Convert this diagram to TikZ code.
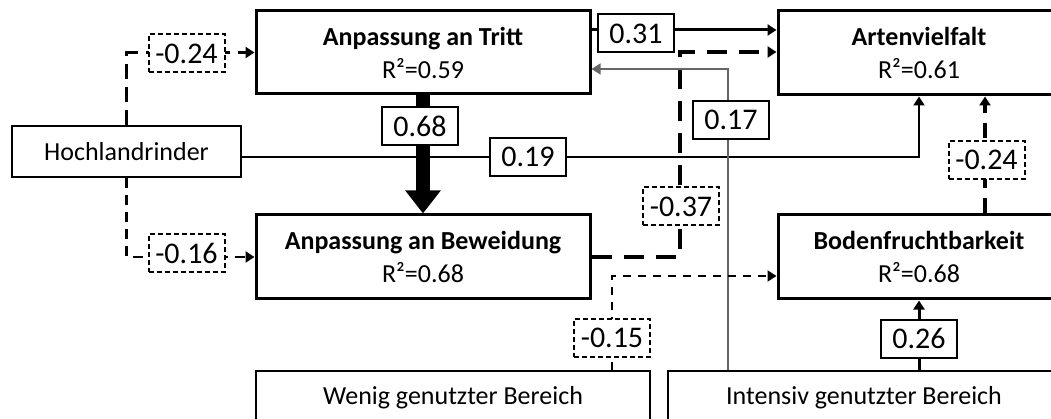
\documentclass[tikz,border=0pt]{standalone}
\usepackage{fontspec}
\setmainfont{Carlito}
\usetikzlibrary{arrows.meta}
\begin{document}
\begin{tikzpicture}[x=1pt,y=-1pt,
  mainbox/.style={draw, line width=3pt, fill=white, align=center, inner sep=0pt,
    font=\fontsize{26}{33}\selectfont},
  srcbox/.style={draw, line width=2pt, fill=white, inner sep=0pt,
    font=\fontsize{26}{30}\selectfont},
  lab/.style={draw, line width=2pt, fill=white, inner sep=0pt,
    minimum width=76pt, minimum height=38pt, font=\fontsize{30}{30}\selectfont},
  dlab/.style={lab, line width=2pt, dash pattern=on 5pt off 3pt},
  arr/.style={-{Triangle[length=9pt,width=11pt]}},
  grayline/.style={line width=1.5pt, draw=black!60},
]
\useasboundingbox (0,0) rectangle (1051,419);
\clip (0,0) rectangle (1051,419);

% main boxes
\node[mainbox, minimum width=334pt, minimum height=83pt] (tritt) at (423,52.5)
  {\textbf{Anpassung an Tritt}\\R²=0.59};
\node[mainbox, minimum width=282pt, minimum height=84pt] (arten) at (919,53)
  {\textbf{Artenvielfalt}\\R²=0.61};
\node[mainbox, minimum width=334pt, minimum height=84pt] (bew) at (423,257)
  {\textbf{Anpassung an Beweidung}\\R²=0.68};
\node[mainbox, minimum width=282pt, minimum height=84pt] (boden) at (919,257)
  {\textbf{Bodenfruchtbarkeit}\\R²=0.68};
\node[srcbox, minimum width=229pt, minimum height=51pt] (hoch) at (126.5,151.5) {Hochlandrinder};
\node[srcbox, minimum width=394pt, minimum height=54pt] (wenig) at (453,398) {Wenig genutzter Bereich};
\node[srcbox, minimum width=392pt, minimum height=54pt] (intens) at (864,398) {Intensiv genutzter Bereich};

% connectors
\draw[line width=3pt, dash pattern=on 15pt off 8pt, arr] (hoch.north) |- (tritt.west);
\draw[line width=2.5pt, dash pattern=on 10pt off 7pt, arr] (hoch.south) |- (bew.west);
\draw[line width=2pt, arr] (hoch.east |- 0,157) -| (arten.south);
\draw[line width=14pt, -{Triangle[length=23pt,width=34pt]}] (tritt.south) -- (bew.north);
\draw[line width=3pt, arr] (tritt.east |- 0,30) -- (arten.west |- 0,30);
\draw[line width=4.5pt, dash pattern=on 20pt off 12pt, arr] (bew.east) -| (680,52) -- (arten.west |- 0,52);
\draw[grayline, arr] (intens.north -| 728,0) |- (tritt.east |- 0,69);
\draw[line width=2pt, dash pattern=on 8pt off 7pt, arr] (wenig.north -| 612,0) |- (boden.west |- 0,276);
\draw[line width=4pt, dash pattern=on 15pt off 10pt, arr] (boden.north -| 985,0) -- (arten.south -| 985,0);
\draw[line width=3pt, arr] (intens.north -| 919,0) -- (boden.south -| 919,0);

% coefficient labels
\node[dlab] (l1) at (186.5,53.5) {-0.24};
\node[dlab] (l2) at (186.5,253.5) {-0.16};
\node[lab] (l3) at (528,157) {0.19};
\node[lab] (l4) at (420,126) {0.68};
\node[lab] (l5) at (636,33.5) {0.31};
\node[dlab] (l6) at (681,206.5) {-0.37};
\node[lab] (l7) at (731,120) {0.17};
\node[dlab] (l8) at (612,337.5) {-0.15};
\node[dlab] (l9) at (986.5,160) {-0.24};
\node[lab] (l10) at (919,338.5) {0.26};
\end{tikzpicture}
\end{document}
